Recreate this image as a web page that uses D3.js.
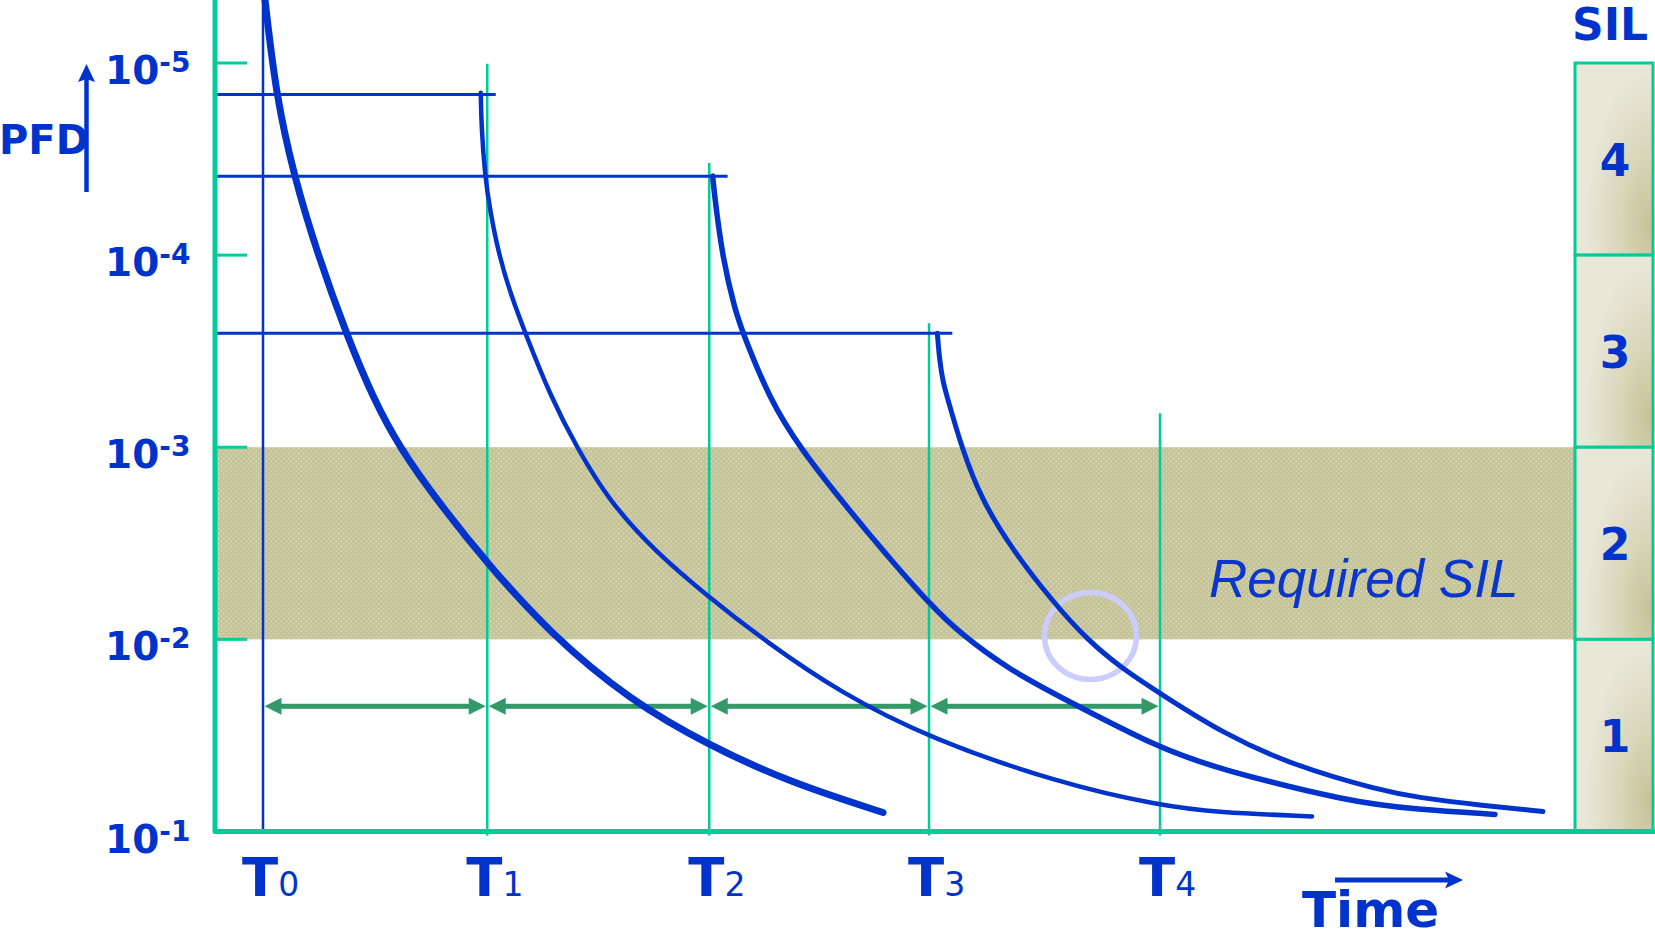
<!DOCTYPE html>
<html>
<head>
<meta charset="utf-8">
<script src="https://cdn.jsdelivr.net/npm/d3@7"></script>
<style>
  html, body { margin: 0; padding: 0; background: #fff; }
  svg { display: block; }
</style>
</head>
<body>
<svg id="chart" width="1655" height="939"></svg>
<script>
// ---- data -------------------------------------------------------------
// PFD decades on the logarithmic axis (smallest PFD at the top)
const decades = [1e-5, 1e-4, 1e-3, 1e-2, 1e-1];
const decadeExponents = ["-5", "-4", "-3", "-2", "-1"];

// SIL bands, from SIL 4 down to SIL 1
const silNames = ["4", "3", "2", "1"];
const silBounds = [[1e-5, 1e-4], [1e-4, 1e-3], [1e-3, 1e-2], [1e-2, 1e-1]];
const requiredSil = [1e-3, 1e-2];
const requiredLabel = "Required SIL";

// proof test instants T0..T4, in test intervals
const testTimes = [0, 1, 1.99, 2.97, 4];
const testIndex = ["0", "1", "2", "3", "4"];
const testLineTop = [4.7e-6, 1.01e-5, 3.32e-5, 2.26e-4, 6.65e-4];

// PFD that remains right after each (imperfect) proof test
const residualPFD = [1.46e-5, 3.88e-5, 2.55e-4];
const intervalArrowPFD = 2.23e-2;
const highlightPoint = [3.69, 9.6e-3];

// PFD(t) after each proof test: [time, PFD]
const pfdAfterT0 = [[0.009, 4.70e-6], [0.058, 1.47e-5], [0.138, 3.88e-5], [0.245, 1.00e-4],
  [0.370, 2.55e-4], [0.495, 5.69e-4], [0.611, 1.01e-3], [0.776, 1.89e-3], [0.999, 4.02e-3],
  [1.280, 9.31e-3], [1.637, 2.08e-2], [1.989, 3.56e-2], [2.350, 5.56e-2], [2.765, 7.96e-2]];
const pfdAfterT1 = [[0.971, 1.43e-5], [0.974, 2.15e-5], [0.990, 3.88e-5], [1.012, 5.83e-5],
  [1.052, 1.00e-4], [1.106, 1.62e-4], [1.173, 2.61e-4], [1.280, 5.36e-4], [1.400, 1.01e-3],
  [1.547, 1.93e-3], [1.748, 3.48e-3], [1.989, 6.04e-3], [2.239, 1.02e-2], [2.573, 1.89e-2],
  [2.974, 3.28e-2], [3.554, 5.62e-2], [4.000, 7.33e-2], [4.254, 7.96e-2], [4.678, 8.35e-2]];
const pfdAfterT2 = [[2.005, 3.88e-5], [2.016, 5.18e-5], [2.051, 1.06e-4], [2.105, 1.93e-4],
  [2.140, 2.55e-4], [2.261, 5.69e-4], [2.395, 1.01e-3], [2.595, 2.00e-3], [2.774, 3.56e-3],
  [2.974, 6.58e-3], [3.108, 9.31e-3], [3.331, 1.45e-2], [3.585, 2.08e-2], [4.000, 3.70e-2],
  [4.254, 4.70e-2], [4.847, 7.03e-2], [5.146, 7.67e-2], [5.494, 8.15e-2]];
const pfdAfterT3 = [[3.007, 2.55e-4], [3.017, 3.52e-4], [3.032, 4.58e-4], [3.055, 5.69e-4],
  [3.116, 1.01e-3], [3.205, 1.89e-3], [3.344, 3.44e-3], [3.517, 6.26e-3], [3.673, 1.00e-2],
  [3.835, 1.43e-2], [4.000, 1.91e-2], [4.281, 3.09e-2], [4.593, 4.53e-2], [4.981, 6.11e-2],
  [5.146, 6.65e-2], [5.440, 7.33e-2], [5.708, 7.87e-2]];
const pfdCurves = [pfdAfterT0, pfdAfterT1, pfdAfterT2, pfdAfterT3];

// ---- layout & style ---------------------------------------------------
const W = 1655, H = 939;
const BLUE = "#0033cc", GREEN = "#00cc99", ARROW_GREEN = "#339966";
const FONT = "'DejaVu Sans', Verdana, sans-serif";
const axisX = 215, axisY = 831.5, silLeft = 1575, silRight = 1653;
const curveWidths = [7, 4.5, 5.5, 5];

const x = d3.scaleLinear().domain([0, 4]).range([263, 1160]);
const y = d3.scaleLog().domain([1e-1, 1e-5]).range([831.5, 63]);

const svg = d3.select("#chart");
svg.append("rect").attr("width", W).attr("height", H).attr("fill", "#fff");

const defs = svg.append("defs");
// dotted fill of the required SIL band
const pat = defs.append("pattern").attr("id", "dots")
  .attr("width", 5).attr("height", 5).attr("patternUnits", "userSpaceOnUse");
pat.append("rect").attr("width", 5).attr("height", 5).attr("fill", "#c5c398");
pat.append("circle").attr("cx", 1.25).attr("cy", 1.25).attr("r", 0.75).attr("fill", "#e2e1c8");
pat.append("circle").attr("cx", 3.75).attr("cy", 3.75).attr("r", 0.75).attr("fill", "#e2e1c8");
// shaded SIL cells
const rg = defs.append("radialGradient").attr("id", "silFill")
  .attr("cx", 0.95).attr("cy", 0.85).attr("r", 0.8).attr("fx", 0.95).attr("fy", 0.85);
rg.append("stop").attr("offset", "0").attr("stop-color", "#c7c296");
rg.append("stop").attr("offset", "0.45").attr("stop-color", "#d8d5b8");
rg.append("stop").attr("offset", "1").attr("stop-color", "#e8e7d8");

// required SIL band
svg.append("rect")
  .attr("x", axisX).attr("width", silLeft - axisX)
  .attr("y", y(requiredSil[0])).attr("height", y(requiredSil[1]) - y(requiredSil[0]))
  .attr("fill", "url(#dots)");

svg.append("text")
  .attr("x", 1209).attr("y", (y(requiredSil[0]) + y(requiredSil[1])) / 2 + 54)
  .attr("font-family", "'Liberation Sans', Arial, sans-serif")
  .attr("font-style", "italic").attr("font-size", 53).attr("fill", "#0a36cc")
  .text(requiredLabel);

// SIL column
const sil = svg.append("g");
sil.selectAll("rect").data(silBounds).join("rect")
  .attr("x", silLeft).attr("width", silRight - silLeft)
  .attr("y", d => y(d[0])).attr("height", d => y(d[1]) - y(d[0]))
  .attr("fill", "url(#silFill)").attr("stroke", GREEN).attr("stroke-width", 3);
sil.selectAll("text").data(silBounds).join("text")
  .attr("x", (silLeft + silRight) / 2 + 1)
  .attr("y", d => (y(d[0]) + y(d[1])) / 2 + 17)
  .attr("text-anchor", "middle").attr("font-family", FONT).attr("font-weight", "bold")
  .attr("font-size", 44).attr("fill", BLUE)
  .text((d, i) => silNames[i]);
svg.append("text").attr("x", 1572).attr("y", 40)
  .attr("font-family", FONT).attr("font-weight", "bold").attr("font-size", 44)
  .attr("fill", BLUE).text("SIL");

// proof test verticals
svg.selectAll(".test").data(testTimes).join("line")
  .attr("class", "test")
  .attr("x1", d => x(d)).attr("x2", d => x(d))
  .attr("y1", (d, i) => y(testLineTop[i])).attr("y2", (d, i) => i === 0 ? axisY : axisY + 4)
  .attr("stroke", (d, i) => i === 0 ? BLUE : GREEN).attr("stroke-width", 2.5);

// residual PFD levels
svg.selectAll(".residual").data(residualPFD).join("line")
  .attr("class", "residual")
  .attr("x1", axisX + 2).attr("x2", (d, i) => x(pfdCurves[i + 1][0][0]) + 15)
  .attr("y1", d => y(d)).attr("y2", d => y(d))
  .attr("stroke", BLUE).attr("stroke-width", 3);

// axes frame and decade ticks
svg.append("path")
  .attr("d", `M${axisX},0 V${axisY} H${W}`)
  .attr("fill", "none").attr("stroke", GREEN).attr("stroke-width", 5)
  .attr("stroke-linejoin", "round");
svg.selectAll(".tick").data(decades.slice(0, 4)).join("line")
  .attr("class", "tick")
  .attr("x1", axisX).attr("x2", 247).attr("y1", d => y(d)).attr("y2", d => y(d))
  .attr("stroke", GREEN).attr("stroke-width", 3);

// decade labels 10^n
const tl = svg.selectAll(".dlabel").data(decades).join("text")
  .attr("class", "dlabel")
  .attr("x", 105).attr("y", d => y(d) + 21)
  .attr("font-family", FONT).attr("font-weight", "bold").attr("font-size", 39)
  .attr("fill", BLUE);
tl.append("tspan").text("10");
tl.append("tspan").attr("dy", -12).attr("font-size", 28)
  .text((d, i) => decadeExponents[i]);

// test labels T0..T4
const xl = svg.selectAll(".tlabel").data(testTimes).join("text")
  .attr("class", "tlabel")
  .attr("x", d => x(d) - 21).attr("y", 896)
  .attr("font-family", FONT).attr("fill", BLUE);
xl.append("tspan").attr("font-weight", "bold").attr("font-size", 53).text("T");
xl.append("tspan").attr("font-size", 33).attr("font-weight", "normal")
  .text((d, i) => testIndex[i]);

// PFD axis title with arrow
svg.append("text").attr("x", -1).attr("y", 154)
  .attr("font-family", FONT).attr("font-weight", "bold").attr("font-size", 40)
  .attr("fill", BLUE).text("PFD");
svg.append("line").attr("x1", 86.5).attr("x2", 86.5).attr("y1", 192).attr("y2", 78)
  .attr("stroke", BLUE).attr("stroke-width", 4.5);
svg.append("path").attr("d", "M86.5,64 L95,82 L86.5,79 L78,82 Z").attr("fill", BLUE);

// Time axis title with arrow
svg.append("text").attr("x", 1302).attr("y", 927)
  .attr("font-family", FONT).attr("font-weight", "bold").attr("font-size", 50)
  .attr("fill", BLUE).text("Time");
svg.append("line").attr("x1", 1335).attr("x2", 1450).attr("y1", 880).attr("y2", 880)
  .attr("stroke", BLUE).attr("stroke-width", 5);
svg.append("path").attr("d", "M1463,880 L1445,871.5 L1449,880 L1445,888.5 Z").attr("fill", BLUE);

// test interval arrows
const ay = y(intervalArrowPFD);
const intervals = d3.pairs(testTimes);
const ag = svg.append("g").attr("fill", ARROW_GREEN);
intervals.forEach(([a, b]) => {
  const x1 = x(a) + 1.5, x2 = x(b) - 1.5, L = 17, hw = 8.5;
  ag.append("rect").attr("x", x1 + L - 2).attr("width", x2 - x1 - 2 * L + 4)
    .attr("y", ay - 2.5).attr("height", 5);
  ag.append("path").attr("d", `M${x1},${ay} L${x1 + L},${ay - hw} L${x1 + L},${ay + hw} Z`);
  ag.append("path").attr("d", `M${x2},${ay} L${x2 - L},${ay - hw} L${x2 - L},${ay + hw} Z`);
});

// highlighted crossing of the SIL 2 limit
svg.append("ellipse")
  .attr("cx", x(highlightPoint[0])).attr("cy", y(highlightPoint[1]))
  .attr("rx", 46).attr("ry", 43.5)
  .attr("fill", "none").attr("stroke", "#ccccff").attr("stroke-width", 5.5);

// PFD curves, smoothed through the read points
const line = d3.line()
  .x(d => x(d[0])).y(d => y(d[1]))
  .curve(d3.curveBasis);
svg.selectAll(".pfd").data(pfdCurves).join("path")
  .attr("class", "pfd")
  .attr("d", line)
  .attr("fill", "none").attr("stroke", BLUE)
  .attr("stroke-width", (d, i) => curveWidths[i])
  .attr("stroke-linecap", "round").attr("stroke-linejoin", "round");
</script>
</body>
</html>
